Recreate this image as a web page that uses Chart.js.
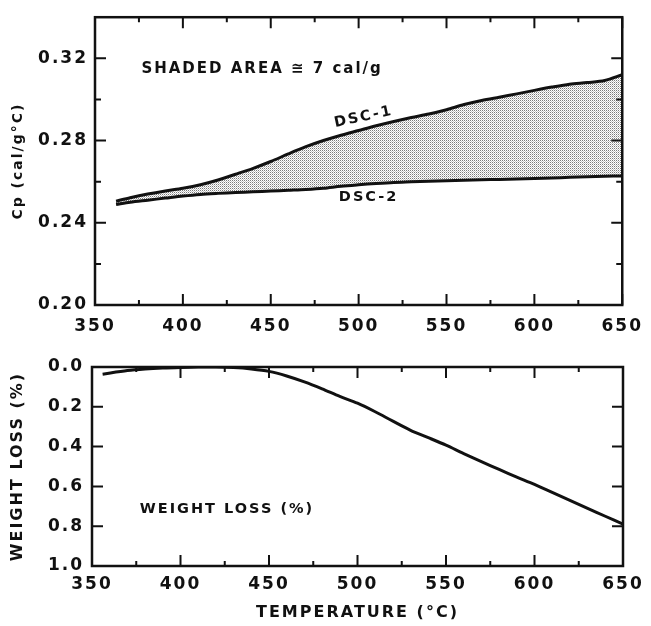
<!DOCTYPE html>
<html>
<head>
<meta charset="utf-8">
<script src="https://cdn.jsdelivr.net/npm/chart.js@4"></script>
<style>
  body { margin: 0; background: #fff; }
  canvas { display: block; }
</style>
</head>
<body>
<canvas id="cpChart" width="651" height="335"></canvas>
<canvas id="wlChart" width="651" height="291"></canvas>
<script>
// Cp (cal/g°C)
const cpTemps = [362, 370, 380, 390, 400, 410, 420, 430, 440, 450, 460, 470, 480, 490, 500,
  510, 520, 530, 540, 550, 560, 570, 580, 590, 600, 610, 620, 630, 640, 650];
const dsc1 = [0.2505, 0.2522, 0.2540, 0.2555, 0.2568, 0.2585, 0.2608, 0.2636, 0.2665, 0.2698,
  0.2735, 0.2770, 0.2800, 0.2826, 0.2849, 0.2872, 0.2893, 0.2912, 0.2929, 0.2950,
  0.2975, 0.2995, 0.3011, 0.3027, 0.3044, 0.3060, 0.3074, 0.3082, 0.3092, 0.3120];
const dsc2 = [0.2489, 0.2500, 0.2510, 0.2520, 0.2530, 0.2538, 0.2543, 0.2547, 0.2551, 0.2554,
  0.2558, 0.2562, 0.2568, 0.2578, 0.2585, 0.2591, 0.2596, 0.2599, 0.2602, 0.2605,
  0.2607, 0.2609, 0.2611, 0.2613, 0.2615, 0.2618, 0.2621, 0.2624, 0.2626, 0.2628];

// weight loss (%)
const wlTemps = [356, 370, 380, 390, 400, 410, 420, 430, 440, 450, 460, 470, 480, 490, 500,
  510, 520, 530, 540, 550, 560, 570, 580, 590, 600, 610, 620, 630, 640, 650];
const weightLoss = [0.036, 0.018, 0.010, 0.005, 0.002, 0.000, 0.000, 0.003, 0.010, 0.022,
  0.045, 0.075, 0.110, 0.148, 0.182, 0.225, 0.272, 0.318, 0.355, 0.393,
  0.435, 0.475, 0.515, 0.553, 0.590, 0.630, 0.670, 0.710, 0.750, 0.790];

// tick labels
const tempTicks = [350, 400, 450, 500, 550, 600, 650];
const cpTicks = [0.20, 0.24, 0.28, 0.32];
const wlTicks = [0.0, 0.2, 0.4, 0.6, 0.8, 1.0];

Chart.defaults.font.family = '"DejaVu Sans", sans-serif';
Chart.defaults.font.weight = 'bold';
Chart.defaults.color = '#111';

const INK = '#111';

// dotted fill between the curves
function stipple(ctx) {
  const c = document.createElement('canvas');
  c.width = 2; c.height = 2;
  const g = c.getContext('2d');
  g.fillStyle = '#fff'; g.fillRect(0, 0, 2, 2);
  g.fillStyle = '#7a7a7a'; g.fillRect(0, 0, 1, 1);
  g.fillStyle = '#c4c4c4'; g.fillRect(1, 1, 1, 1);
  return ctx.createPattern(c, 'repeat');
}

// box, inward tick marks and the text written inside the plot
const frame = {
  id: 'frame',
  beforeDraw(chart) {
    chart.ctx.letterSpacing = '2px';
  },
  afterDraw(chart, args, opts) {
    const { ctx, chartArea: a, scales: { x, y } } = chart;
    const xs = x.ticks.map(t => t.value);
    const ys = y.ticks.map(t => t.value);
    const mids = v => v.slice(1).map((b, i) => (b + v[i]) / 2);
    ctx.save();
    ctx.strokeStyle = INK;
    ctx.lineWidth = 2;
    ctx.beginPath();
    const xMark = (v, len) => {
      const p = x.getPixelForValue(v);
      ctx.moveTo(p, a.bottom); ctx.lineTo(p, a.bottom - len);
      ctx.moveTo(p, a.top); ctx.lineTo(p, a.top + len);
    };
    const yMark = (v, len) => {
      const p = y.getPixelForValue(v);
      ctx.moveTo(a.left, p); ctx.lineTo(a.left + len, p);
      ctx.moveTo(a.right, p); ctx.lineTo(a.right - len, p);
    };
    xs.forEach(v => xMark(v, 11));
    mids(xs).forEach(v => xMark(v, 5));
    ys.forEach(v => yMark(v, 11));
    if (opts.minorY) mids(ys).forEach(v => yMark(v, 6));
    ctx.stroke();
    ctx.lineWidth = 2.5;
    ctx.strokeRect(a.left, a.top, a.right - a.left, a.bottom - a.top);

    ctx.fillStyle = INK;
    ctx.textBaseline = 'middle';
    (opts.notes || []).forEach(n => {
      ctx.save();
      ctx.font = 'bold ' + n.size + 'px "DejaVu Sans", sans-serif';
      ctx.textAlign = n.align;
      ctx.translate(x.getPixelForValue(n.x), y.getPixelForValue(n.y));
      ctx.rotate((n.rot || 0) * Math.PI / 180);
      ctx.fillText(n.text, 0, 0);
      ctx.restore();
    });
    ctx.restore();
  }
};

const setTicks = list => scale => { scale.ticks = list.map(v => ({ value: v })); };

const cpCanvas = document.getElementById('cpChart');
new Chart(cpCanvas, {
  type: 'line',
  data: {
    datasets: [
      {
        label: 'DSC-1',
        data: cpTemps.map((t, i) => ({ x: t, y: dsc1[i] })),
        borderColor: INK,
        borderWidth: 3,
        backgroundColor: stipple(cpCanvas.getContext('2d')),
        fill: '+1',
        pointRadius: 0,
        tension: 0.3
      },
      {
        label: 'DSC-2',
        data: cpTemps.map((t, i) => ({ x: t, y: dsc2[i] })),
        borderColor: INK,
        borderWidth: 3,
        fill: false,
        pointRadius: 0,
        tension: 0.3
      }
    ]
  },
  options: {
    responsive: false,
    animation: false,
    devicePixelRatio: 1,
    layout: { padding: { left: 0, top: 8, right: 26, bottom: 0 } },
    plugins: {
      legend: { display: false },
      tooltip: { enabled: false },
      filler: { drawTime: 'beforeDatasetsDraw' },
      frame: {
        minorY: true,
        notes: [
          { text: 'SHADED AREA \u2245 7 cal/g', x: 376.4, y: 0.3146, size: 15, align: 'left' },
          { text: 'DSC-1', x: 502.8, y: 0.2914, size: 14.5, align: 'center', rot: -12 },
          { text: 'DSC-2', x: 505.7, y: 0.2525, size: 14.5, align: 'center' }
        ]
      }
    },
    scales: {
      x: {
        type: 'linear', min: 350, max: 650,
        afterBuildTicks: setTicks(tempTicks),
        afterFit: s => { s.height = 30; },
        grid: { display: false, drawTicks: false },
        border: { display: false },
        ticks: { padding: 11, font: { size: 17 } }
      },
      y: {
        min: 0.2, max: 0.34,
        afterBuildTicks: setTicks(cpTicks),
        afterFit: s => { s.width = 95; },
        grid: { display: false, drawTicks: false },
        border: { display: false },
        ticks: { padding: 7, font: { size: 17 }, callback: v => v.toFixed(2) },
        title: { display: true, text: 'Cp (cal/g°C)', font: { size: 14 }, padding: { top: 10, bottom: 0 } }
      }
    }
  },
  plugins: [frame]
});

new Chart(document.getElementById('wlChart'), {
  type: 'line',
  data: {
    datasets: [{
      label: 'WEIGHT LOSS (%)',
      data: wlTemps.map((t, i) => ({ x: t, y: weightLoss[i] })),
      borderColor: INK,
      borderWidth: 3,
      fill: false,
      pointRadius: 0,
      tension: 0.3
    }]
  },
  options: {
    responsive: false,
    animation: false,
    devicePixelRatio: 1,
    layout: { padding: { left: 0, top: 32, right: 28, bottom: 0 } },
    plugins: {
      legend: { display: false },
      tooltip: { enabled: false },
      frame: {
        minorY: false,
        notes: [
          { text: 'WEIGHT LOSS (%)', x: 377, y: 0.714, size: 14.5, align: 'left' }
        ]
      }
    },
    scales: {
      x: {
        type: 'linear', min: 350, max: 650,
        afterBuildTicks: setTicks(tempTicks),
        afterFit: s => { s.height = 60; },
        grid: { display: false, drawTicks: false },
        border: { display: false },
        ticks: { padding: 8, font: { size: 17 } },
        title: { display: true, text: 'TEMPERATURE (°C)', font: { size: 16 }, padding: { top: 0, bottom: 4 } }
      },
      y: {
        min: 0, max: 1, reverse: true,
        afterBuildTicks: setTicks(wlTicks),
        afterFit: s => { s.width = 92; },
        grid: { display: false, drawTicks: false },
        border: { display: false },
        ticks: { padding: 8, font: { size: 17 }, callback: v => v.toFixed(1) },
        title: { display: true, text: 'WEIGHT LOSS (%)', font: { size: 16 }, padding: { top: 8, bottom: 0 } }
      }
    }
  },
  plugins: [frame]
});
</script>
</body>
</html>
